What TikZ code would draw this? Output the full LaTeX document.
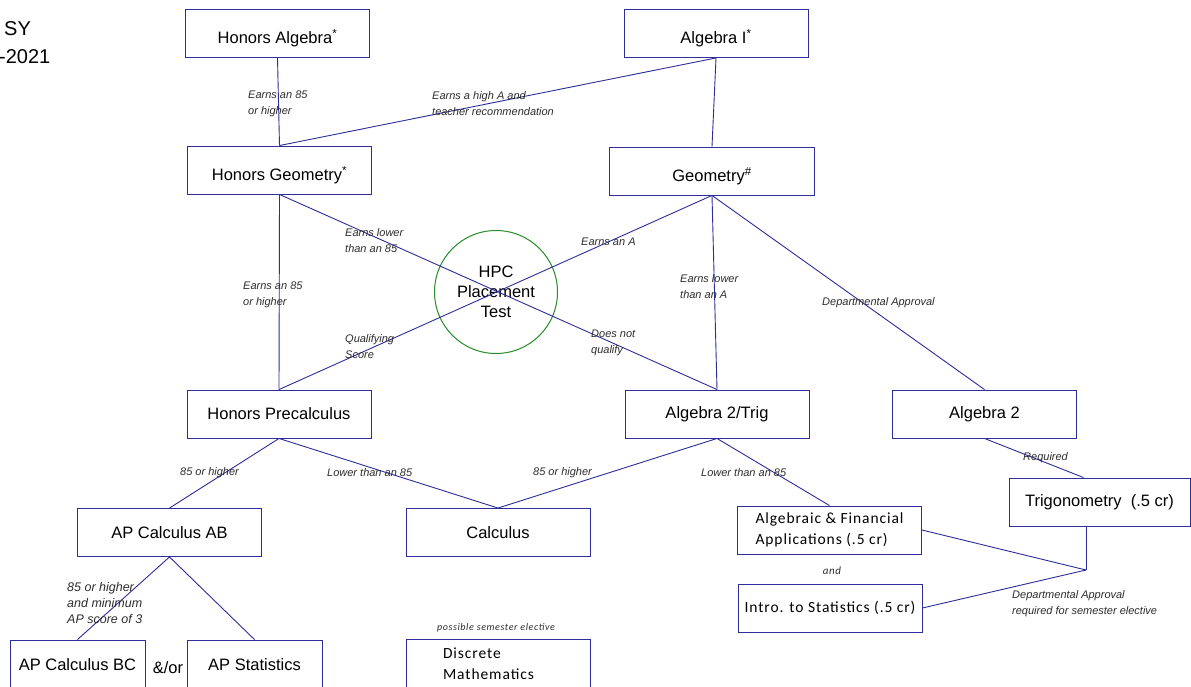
\documentclass[tikz,border=0pt]{standalone}
\usepackage{fontspec}
\setmainfont{Liberation Sans}
\newfontfamily\calfont{Carlito}[LetterSpace=6]
\usetikzlibrary{positioning}
\usetikzlibrary{calc}
\definecolor{linkblue}{RGB}{45,45,155}
\definecolor{ringgreen}{RGB}{40,140,40}
\definecolor{notegray}{RGB}{45,45,45}
\tikzstyle{course}=[rectangle,draw=linkblue,line width=0.9pt,minimum width=184pt,minimum height=48pt,inner sep=0pt,font=\fontsize{16.5}{20}\selectfont]
\tikzstyle{lowtext}=[text height=24pt,text depth=3pt]
\tikzstyle{calcourse}=[align=left,font=\calfont\fontsize{15.5}{21}\selectfont]
\tikzstyle{hpc}=[circle,draw=ringgreen,line width=1pt,minimum size=123pt,inner sep=0pt,align=center,font=\fontsize{16.5}{20}\selectfont]
\tikzstyle{note}=[anchor=west,align=left,inner sep=0pt,text=notegray,font=\fontsize{11}{16}\selectfont\itshape]
\tikzstyle{calnote}=[inner sep=0pt,text=notegray,font=\calfont\fontsize{10}{12}\selectfont\itshape]
\tikzstyle{link}=[draw=linkblue,line width=0.9pt]

\begin{document}
\begin{tikzpicture}[x=1pt,y=-1pt]

  \useasboundingbox (0,0) rectangle (1191,687);
  \fill[white] (0,0) rectangle (1191,687);

  \node[anchor=west,inner sep=0pt,font=\fontsize{20}{24}\selectfont] (sy) at (4,29) {SY};
  \node[anchor=west,inner sep=0pt,font=\fontsize{20}{24}\selectfont] (yr) at (-1,57) {-2021};

  % top two rows
  \foreach \pos/\name/\txt in {{(277.5,33.5)/halg/{Honors Algebra\textsuperscript{*}}}, {(716,33.5)/alg1/{Algebra I\textsuperscript{*}}}, {(279.5,170)/hgeo/{Honors Geometry\textsuperscript{*}}}}
    \node[course,lowtext] (\name) at \pos {\txt};
  \node[course,lowtext,minimum width=205pt] (geo) at (712,171) {Geometry\textsuperscript{\#}};

  \node[hpc] (hpc) at (496,292) {HPC\\Placement\\Test};

  % lower rows
  \foreach \pos/\name/\txt in {{(279,414)/hpre/{Honors Precalculus}}, {(717,414)/atrig/{Algebra 2/Trig}}, {(984.5,414)/alg2/{Algebra 2}}, {(169.5,532.5)/apab/{AP Calculus AB}}, {(498,532.5)/calc/{Calculus}}}
    \node[course] (\name) at \pos {\txt};
  \node[course,minimum width=181pt] (trig) at (1099.5,502) {Trigonometry\ \ (.5 cr)};
  \node[course,calcourse] (algfin) at (829.5,530) {Algebraic \& Financial\\Applications\ (.5 cr)};
  \node[course,calcourse] (intro) at (830,608) {Intro. to Statistics\ (.5 cr)};
  \node[course,minimum width=135pt,minimum height=50pt] (apbc) at (77.5,665) {AP Calculus BC};
  \node[course,minimum width=135pt,minimum height=50pt] (apstat) at (254.5,665) {AP Statistics};
  \node[course,calcourse,minimum height=50pt,text width=110pt] (disc) at (498,664) {Discrete\\Mathematics};

  \foreach \source/\dest in {halg/hgeo, alg1/hgeo, alg1/geo, hgeo/hpre, hgeo/atrig, geo/hpre, geo/atrig, geo/alg2, hpre/apab, hpre/calc, atrig/calc, atrig/algfin, apab/apbc, apab/apstat}
    \draw[link] (\source.south) -- (\dest.north);
  \draw[link] (alg2.south) -- ([xshift=-16pt]trig.north);

  \coordinate (join) at (1086,570);
  \draw[link] (trig.south -| join) -- (join);
  \draw[link] (algfin.east) -- (join);
  \draw[link] (intro.east) -- (join);

  \node[note] (n1) at (248,104) {Earns an 85\\or higher};
  \node[note] (n2) at (432,104) {Earns a high A and\\teacher recommendation};
  \node[note] (n3) at (345,241) {Earns lower\\than an 85};
  \node[note] (n4) at (581,242) {Earns an A};
  \node[note] (n5) at (243,295) {Earns an 85\\or higher};
  \node[note] (n6) at (345,347) {Qualifying\\Score};
  \node[note] (n7) at (591,343) {Does not\\qualify};
  \node[note] (n8) at (680,287) {Earns lower\\than an A};
  \node[note] (n9) at (822,303) {Departmental Approval};
  \node[note] (n10) at (180,473) {85 or higher};
  \node[note] (n11) at (327,473) {Lower than an 85};
  \node[note] (n12) at (533,473) {85 or higher};
  \node[note] (n13) at (701,473) {Lower than an 85};
  \node[note] (n14) at (1023,458) {Required};
  \node[note] (n15) at (1012,604) {Departmental Approval\\required for semester elective};
  \node[note,font=\fontsize{12.5}{16}\selectfont\itshape] (n16) at (67,603) {85 or higher\\and minimum\\AP score of 3};
  \node[calnote,font=\calfont\fontsize{11}{13}\selectfont\itshape] (n17) at (832,571) {and};
  \node[calnote] (n18) at (496,628) {possible semester elective};

  \node[font=\fontsize{16.5}{20}\selectfont] (andor) at (168,668) {\&/or};

\end{tikzpicture}
\end{document}
